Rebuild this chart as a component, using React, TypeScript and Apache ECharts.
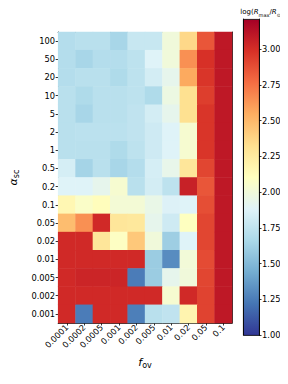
import React, { useEffect, useRef } from 'react';
import * as echarts from 'echarts';

const xLabels = ['0.0001', '0.0002', '0.0005', '0.001', '0.002', '0.005', '0.01', '0.02', '0.05', '0.1'];
const yLabels = ['100', '50', '20', '10', '5', '2', '1', '0.5', '0.2', '0.1', '0.05', '0.02', '0.01', '0.005', '0.002', '0.001'];

// log(Rmax/Rsun), rows top (alpha=100) to bottom (alpha=0.001), columns f_ov ascending
const row100 = [1.70, 1.72, 1.72, 1.65, 1.78, 1.78, 2.00, 2.36, 2.85, 3.10];
const row50 = [1.70, 1.65, 1.70, 1.70, 1.74, 1.88, 2.00, 2.65, 2.99, 3.10];
const row20 = [1.70, 1.72, 1.72, 1.68, 1.74, 1.83, 1.93, 2.56, 2.97, 3.10];
const row10 = [1.72, 1.68, 1.72, 1.72, 1.74, 1.68, 1.97, 2.32, 2.94, 3.10];
const row5 = [1.72, 1.65, 1.72, 1.72, 1.75, 1.83, 1.93, 2.32, 2.97, 3.10];
const row2 = [1.72, 1.73, 1.73, 1.73, 1.75, 1.81, 1.88, 2.04, 2.97, 3.10];
const row1 = [1.72, 1.72, 1.72, 1.68, 1.74, 1.81, 1.88, 2.04, 2.97, 3.10];
const row05 = [1.84, 1.64, 1.72, 1.65, 1.70, 1.84, 1.94, 2.28, 2.91, 3.10];
const row02 = [1.88, 1.88, 1.93, 2.04, 1.72, 1.83, 1.74, 3.06, 2.85, 3.10];
const row01 = [2.16, 2.07, 2.12, 2.02, 2.02, 1.95, 1.87, 1.88, 2.88, 3.10];
const row005 = [2.48, 2.65, 3.02, 2.28, 2.27, 1.93, 1.81, 2.10, 2.91, 3.10];
const row002 = [3.02, 3.02, 2.28, 2.09, 2.43, 2.00, 1.61, 1.88, 2.91, 3.10];
const row001 = [3.02, 3.02, 3.02, 3.02, 3.02, 1.60, 1.31, 2.01, 2.89, 3.10];
const row0005 = [3.02, 3.04, 3.04, 3.04, 1.25, 1.60, 1.93, 2.00, 2.91, 3.10];
const row0002 = [3.02, 3.02, 3.02, 3.02, 3.02, 3.02, 2.04, 3.02, 2.92, 3.10];
const row0001 = [3.02, 1.25, 3.02, 3.02, 1.26, 1.72, 1.75, 2.18, 2.92, 3.10];

const rows = [row100, row50, row20, row10, row5, row2, row1, row05, row02, row01, row005, row002, row001, row0005, row0002, row0001];

const vMin = 1.0;
const vMax = 3.21;
const cbInterval = 0.25;

const cmap = ['#313695', '#4575b4', '#74add1', '#abd9e9', '#e0f3f8', '#ffffbf', '#fee090', '#fdae61', '#f46d43', '#d73027', '#a50026'];

const FONT = 'DejaVu Sans';

export default function App() {
  const ref = useRef<HTMLDivElement>(null);
  useEffect(() => {
    if (!ref.current) return;
    const chart = echarts.init(ref.current, undefined, { renderer: 'svg' });
    const data: number[][] = [];
    rows.forEach((r, yi) => r.forEach((v, xi) => data.push([xi, yi, v])));

    const axisLineStyle = { color: '#000', width: 0.8 };
    const subRich = {
      m: { fontSize: 11, fontFamily: FONT, fontStyle: 'italic', color: '#000', lineHeight: 14 },
      s: { fontSize: 8, fontFamily: FONT, color: '#000', verticalAlign: 'bottom', lineHeight: 8 },
    };

    chart.setOption({
      animation: false,
      grid: [
        { left: 48, top: 32, width: 184, height: 291 },
        { left: 243, top: 19, width: 16, height: 316 },
      ],
      xAxis: [
        {
          type: 'category', gridIndex: 0, data: xLabels, position: 'bottom',
          axisLine: { show: true, lineStyle: axisLineStyle },
          axisTick: { show: true, alignWithLabel: true, length: 2.5, lineStyle: axisLineStyle },
          axisLabel: { rotate: 45, fontSize: 8.3, fontFamily: FONT, color: '#000', margin: 3, interval: 0 },
          splitLine: { show: false },
          name: '{m|f}{s|ov}', nameLocation: 'middle', nameGap: 32,
          nameTextStyle: { rich: subRich },
        },
        {
          type: 'category', gridIndex: 0, data: xLabels, position: 'top',
          axisLine: { show: true, lineStyle: axisLineStyle },
          axisTick: { show: false }, axisLabel: { show: false }, splitLine: { show: false },
        },
        { type: 'category', gridIndex: 1, data: ['cb'], show: false },
      ],
      yAxis: [
        {
          type: 'category', gridIndex: 0, data: yLabels, inverse: true, position: 'left',
          axisLine: { show: true, lineStyle: axisLineStyle },
          axisTick: { show: true, alignWithLabel: true, length: 2.5, lineStyle: axisLineStyle },
          axisLabel: { fontSize: 8.3, fontFamily: FONT, color: '#000', margin: 3, interval: 0 },
          splitLine: { show: false },
          name: '{m|α}{s|sc}', nameLocation: 'middle', nameGap: 24, nameRotate: 90,
          nameTextStyle: { rich: subRich },
        },
        {
          type: 'category', gridIndex: 0, data: yLabels, inverse: true, position: 'right',
          axisLine: { show: true, lineStyle: axisLineStyle },
          axisTick: { show: false }, axisLabel: { show: false }, splitLine: { show: false },
        },
        {
          type: 'value', gridIndex: 1, min: vMin, max: vMax, interval: cbInterval, position: 'right',
          axisLine: { show: true, lineStyle: axisLineStyle },
          axisTick: { show: true, length: 2.5, lineStyle: axisLineStyle },
          axisLabel: {
            fontSize: 8.3, fontFamily: FONT, color: '#000', margin: 3, showMaxLabel: false,
            formatter: (v: number) => v.toFixed(2),
          },
          splitLine: { show: false },
        },
        {
          type: 'value', gridIndex: 1, min: vMin, max: vMax, position: 'left',
          axisLine: { show: true, lineStyle: axisLineStyle },
          axisTick: { show: false }, axisLabel: { show: false }, splitLine: { show: false },
        },
      ],
      visualMap: {
        show: false, type: 'continuous', min: vMin, max: vMax, seriesIndex: 0, dimension: 2,
        inRange: { color: cmap },
      },
      graphic: [
        {
          type: 'rect', left: 243, top: 19, z: -1,
          shape: { width: 16, height: 316 },
          style: {
            fill: new echarts.graphic.LinearGradient(0, 1, 0, 0,
              cmap.map((c, i) => ({ offset: i / (cmap.length - 1), color: c }))),
            stroke: '#000', lineWidth: 0.8,
          },
        },
        {
          type: 'text', x: 262, y: 12,
          style: {
            text: '{n|log(}{i|R}{s|max}{n|/}{i|R}{s|⊙}{n|)}',
            align: 'center', verticalAlign: 'middle',
            rich: {
              n: { fontSize: 7, fontFamily: FONT, fill: '#000', lineHeight: 11 },
              i: { fontSize: 7, fontFamily: FONT, fontStyle: 'italic', fill: '#000', lineHeight: 11 },
              s: { fontSize: 5, fontFamily: FONT, fill: '#000', verticalAlign: 'bottom', lineHeight: 7 },
            },
          },
        },
      ],
      series: [
        {
          type: 'heatmap', xAxisIndex: 0, yAxisIndex: 0, data,
          itemStyle: { borderWidth: 0 },
          emphasis: { disabled: true },
        },
      ],
    });
    return () => chart.dispose();
  }, []);
  return <div ref={ref} style={{ width: 288, height: 384, margin: -8 }} />;
}
